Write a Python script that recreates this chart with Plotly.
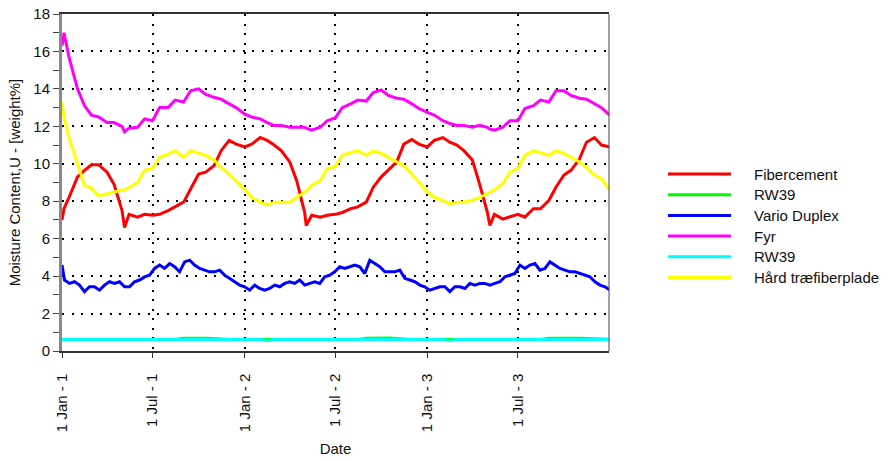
import pandas as pd
import plotly.graph_objects as go

# ---------------- data ----------------
dates = [
    "2001-01-01", "2001-01-05", "2001-01-15", "2001-02-01", "2001-02-15", "2001-03-01", "2001-03-15",
    "2001-04-01", "2001-04-15", "2001-05-01", "2001-05-06", "2001-05-15", "2001-06-01", "2001-06-15",
    "2001-07-01", "2001-07-15", "2001-08-01", "2001-08-15", "2001-09-01", "2001-09-15", "2001-10-01",
    "2001-10-15", "2001-11-01", "2001-11-15", "2001-12-01", "2001-12-15",
    "2002-01-01", "2002-01-15", "2002-02-01", "2002-02-15", "2002-03-01", "2002-03-15", "2002-04-01",
    "2002-04-15", "2002-05-01", "2002-05-04", "2002-05-15", "2002-06-01", "2002-06-15", "2002-07-01",
    "2002-07-15", "2002-08-01", "2002-08-15", "2002-09-01", "2002-09-15", "2002-10-01", "2002-10-15",
    "2002-11-01", "2002-11-15", "2002-12-01", "2002-12-15",
    "2003-01-01", "2003-01-15", "2003-02-01", "2003-02-15", "2003-03-01", "2003-03-15", "2003-04-01",
    "2003-04-15", "2003-05-01", "2003-05-06", "2003-05-15", "2003-06-01", "2003-06-15", "2003-07-01",
    "2003-07-15", "2003-08-01", "2003-08-15", "2003-09-01", "2003-09-15", "2003-10-01", "2003-10-15",
    "2003-11-01", "2003-11-15", "2003-12-01", "2003-12-15", "2003-12-31",
]

fibercement = [
    7.0, 7.6, 8.2, 9.3, 9.65, 9.95, 9.95, 9.55, 8.9, 7.5, 6.6, 7.3, 7.15, 7.3, 7.25, 7.3, 7.5, 7.7,
    7.95, 8.65, 9.45, 9.55, 9.9, 10.7, 11.25, 11.05,
    10.9, 11.05, 11.4, 11.25, 11.0, 10.7, 10.1, 9.1, 7.4, 6.7, 7.25, 7.15, 7.25, 7.3, 7.4, 7.6, 7.7,
    7.95, 8.75, 9.3, 9.65, 10.1, 11.05, 11.3, 11.05,
    10.9, 11.25, 11.4, 11.15, 11.0, 10.7, 10.2, 8.95, 7.4, 6.7, 7.3, 7.05, 7.15, 7.3, 7.15, 7.6, 7.6,
    8.05, 8.75, 9.4, 9.65, 10.25, 11.15, 11.4, 11.0, 10.9,
]

rw39_a = [
    0.62, 0.62, 0.62, 0.62, 0.62, 0.62, 0.62, 0.62, 0.62, 0.62, 0.62, 0.62, 0.62, 0.62, 0.62, 0.62,
    0.62, 0.62, 0.68, 0.69, 0.68, 0.68, 0.67, 0.63, 0.62, 0.62,
    0.62, 0.62, 0.62, 0.62, 0.62, 0.62, 0.62, 0.62, 0.62, 0.62, 0.62, 0.62, 0.62, 0.62, 0.62, 0.62,
    0.62, 0.68, 0.69, 0.68, 0.69, 0.67, 0.63, 0.62, 0.62,
    0.62, 0.62, 0.62, 0.62, 0.62, 0.62, 0.62, 0.62, 0.62, 0.62, 0.62, 0.62, 0.62, 0.62, 0.62, 0.62,
    0.62, 0.68, 0.69, 0.68, 0.68, 0.68, 0.67, 0.63, 0.62, 0.62,
]

# Vario Duplex is read more densely (days after 1 Jan - 1) to keep its jagged look
vario_days = [
    0, 5, 15, 25, 35, 45, 55, 65, 75, 85,
    95, 105, 115, 125, 135, 145, 155, 165, 175, 185,
    195, 205, 215, 225, 235, 245, 255, 265, 275, 285,
    295, 305, 315, 325, 335, 345, 355, 365, 375, 385,
    395, 405, 415, 425, 435, 445, 455, 465, 475, 485,
    495, 505, 515, 525, 535,
    545, 555, 565, 575, 585, 595, 605, 615, 625, 635,
    645, 655, 665, 675, 685, 695, 705, 715, 725, 735,
    745, 755, 765, 775, 785, 795, 805, 815, 825, 835,
    845, 855, 865, 875, 885, 895, 905, 915, 925, 935,
    945, 955, 965, 975, 985, 995, 1005, 1015, 1025, 1035,
    1045, 1055, 1065, 1075, 1085, 1095,
]
vario_duplex = [
    4.59, 3.79, 3.61, 3.70, 3.52, 3.17, 3.43, 3.43, 3.25, 3.52,
    3.70, 3.61, 3.70, 3.43, 3.43, 3.70, 3.79, 3.96, 4.05, 4.41,
    4.59, 4.41, 4.67, 4.50, 4.23, 4.76, 4.85, 4.59, 4.41, 4.32,
    4.23, 4.23, 4.32, 4.05, 3.88, 3.70, 3.52, 3.43, 3.25, 3.52,
    3.34, 3.25, 3.34, 3.52, 3.43, 3.61, 3.70, 3.61, 3.79, 3.52,
    3.61, 3.70, 3.61, 3.96, 4.05,
    4.23, 4.50, 4.41, 4.50, 4.59, 4.50, 4.14, 4.85, 4.67, 4.50,
    4.23, 4.23, 4.23, 4.32, 3.88, 3.79, 3.70, 3.52, 3.43, 3.25,
    3.34, 3.43, 3.43, 3.17, 3.43, 3.43, 3.34, 3.61, 3.52, 3.61,
    3.61, 3.52, 3.61, 3.70, 3.96, 4.05, 4.14, 4.59, 4.41, 4.59,
    4.67, 4.32, 4.41, 4.76, 4.59, 4.41, 4.32, 4.23, 4.23, 4.14,
    4.05, 3.96, 3.70, 3.52, 3.43, 3.25,
]

fyr = [
    16.3, 17.0, 15.7, 14.0, 13.1, 12.6, 12.5, 12.2, 12.2, 12.0, 11.7, 11.9, 11.95, 12.4, 12.3, 13.0,
    13.0, 13.4, 13.3, 13.9, 14.0, 13.7, 13.55, 13.45, 13.2, 13.0,
    12.65, 12.5, 12.4, 12.2, 12.05, 12.05, 11.95, 11.95, 11.95, 11.9, 11.8, 11.95, 12.3, 12.45, 13.0,
    13.2, 13.4, 13.35, 13.8, 13.95, 13.65, 13.5, 13.45, 13.2, 12.95,
    12.75, 12.6, 12.3, 12.15, 12.05, 12.05, 11.95, 12.05, 11.95, 11.85, 11.8, 11.95, 12.3, 12.3, 12.95,
    13.1, 13.4, 13.3, 13.9, 13.9, 13.65, 13.5, 13.45, 13.2, 13.0, 12.6,
]

rw39_b = [
    0.62, 0.62, 0.62, 0.62, 0.62, 0.62, 0.62, 0.62, 0.62, 0.62, 0.62, 0.62, 0.62, 0.62, 0.62, 0.62,
    0.62, 0.62, 0.62, 0.62, 0.62, 0.62, 0.62, 0.62, 0.62, 0.62,
    0.62, 0.62, 0.62, 0.55, 0.62, 0.62, 0.62, 0.62, 0.62, 0.62, 0.62, 0.62, 0.62, 0.62, 0.62, 0.62,
    0.62, 0.62, 0.62, 0.62, 0.62, 0.62, 0.62, 0.62, 0.62,
    0.62, 0.62, 0.62, 0.55, 0.62, 0.62, 0.62, 0.62, 0.62, 0.62, 0.62, 0.62, 0.62, 0.62, 0.62, 0.62,
    0.62, 0.62, 0.62, 0.62, 0.62, 0.62, 0.62, 0.62, 0.62, 0.62,
]

haard_traefiberplade = [
    13.3, 12.5, 11.4, 10.0, 8.85, 8.7, 8.3, 8.4, 8.5, 8.6, 8.6, 8.75, 9.0, 9.65, 9.75, 10.35, 10.5,
    10.7, 10.35, 10.7, 10.55, 10.45, 10.2, 9.8, 9.45, 9.1,
    8.65, 8.2, 7.95, 7.8, 7.95, 7.95, 7.95, 8.2, 8.5, 8.55, 8.85, 9.1, 9.75, 9.85, 10.45, 10.6, 10.7,
    10.45, 10.7, 10.55, 10.35, 10.1, 9.9, 9.45, 9.0,
    8.5, 8.2, 8.05, 7.85, 7.95, 7.95, 8.05, 8.2, 8.4, 8.5, 8.6, 8.95, 9.55, 9.75, 10.45, 10.7, 10.6,
    10.45, 10.7, 10.55, 10.35, 10.1, 9.8, 9.4, 9.2, 8.6,
]

series_names = ["Fibercement", "RW39", "Vario Duplex", "Fyr", "RW39", "Hård træfiberplade"]
series_colors = ["#FF0000", "#00FF00", "#0000FF", "#FF00FF", "#00FFFF", "#FFFF00"]

tick_dates = ["2001-01-01", "2001-07-01", "2002-01-01", "2002-07-01", "2003-01-01", "2003-07-01"]
tick_labels = ["1 Jan - 1", "1 Jul - 1", "1 Jan - 2", "1 Jul - 2", "1 Jan - 3", "1 Jul - 3"]

vario_dates = pd.Timestamp("2001-01-01") + pd.to_timedelta(vario_days, unit="D")
series_x = [dates, dates, vario_dates, dates, dates, dates]
series_values = [fibercement, rw39_a, vario_duplex, fyr, rw39_b, haard_traefiberplade]

# ---------------- figure ----------------
W, H = 894, 461
ML, MR, MT, MB = 62, 285, 14, 110
PW, PH = W - ML - MR, H - MT - MB
FONT = "Arial, Liberation Sans, sans-serif"

fig = go.Figure()
for name, xs, vals, col in zip(series_names, series_x, series_values, series_colors):
    fig.add_trace(go.Scatter(x=xs, y=vals, mode="lines", name=name,
                             line=dict(color=col, width=3), showlegend=False))

grid = dict(showgrid=True, gridcolor="#000000", gridwidth=2, griddash="2px,7.5px")

fig.update_layout(
    width=W, height=H,
    margin=dict(l=ML, r=MR, t=MT, b=MB, pad=0, autoexpand=False),
    paper_bgcolor="white", plot_bgcolor="white",
    font=dict(family=FONT, size=15, color="#111111"),
    xaxis=dict(
        type="date", range=["2001-01-01", "2003-12-30"],
        tickmode="array", tickvals=tick_dates, ticktext=tick_labels, tickangle=-90,
        ticks="outside", ticklen=5, tickcolor="#333333",
        showline=True, linecolor="#333333", linewidth=1.5, mirror=True,
        zeroline=False, ticklabelstandoff=10, automargin=False,
        title=dict(text="Date", font=dict(size=15), standoff=12),
        **grid,
    ),
    yaxis=dict(
        range=[0, 18], tick0=0, dtick=2,
        ticks="outside", ticklen=6, tickcolor="#444444",
        minor=dict(dtick=1, ticks="outside", ticklen=6, tickcolor="#444444", showgrid=False),
        showline=True, linecolor="#888888", linewidth=3,
        zeroline=False, automargin=False,
        title=dict(text="Moisture Content,U - [weight%]", font=dict(size=15), standoff=10),
        **grid,
    ),
)

# right border of plot area
fig.add_shape(type="line", xref="paper", yref="paper", x0=1, x1=1, y0=0, y1=1,
              line=dict(color="#444444", width=1))

# manual legend (long line samples, as in the reference)
def px_x(p):
    return (p - ML) / PW

def px_y(p):
    return (H - MB - p) / PH

leg_top, leg_step = 174, 20.7
for i, (name, col) in enumerate(zip(series_names, series_colors)):
    yy = px_y(leg_top + i * leg_step)
    fig.add_shape(type="line", xref="paper", yref="paper",
                  x0=px_x(668), x1=px_x(731), y0=yy, y1=yy,
                  line=dict(color=col, width=3))
    fig.add_annotation(xref="paper", yref="paper", x=px_x(752), y=yy,
                       text=name, showarrow=False, xanchor="left", yanchor="middle",
                       font=dict(family=FONT, size=15, color="#111111"))

fig.write_html("out.html")
